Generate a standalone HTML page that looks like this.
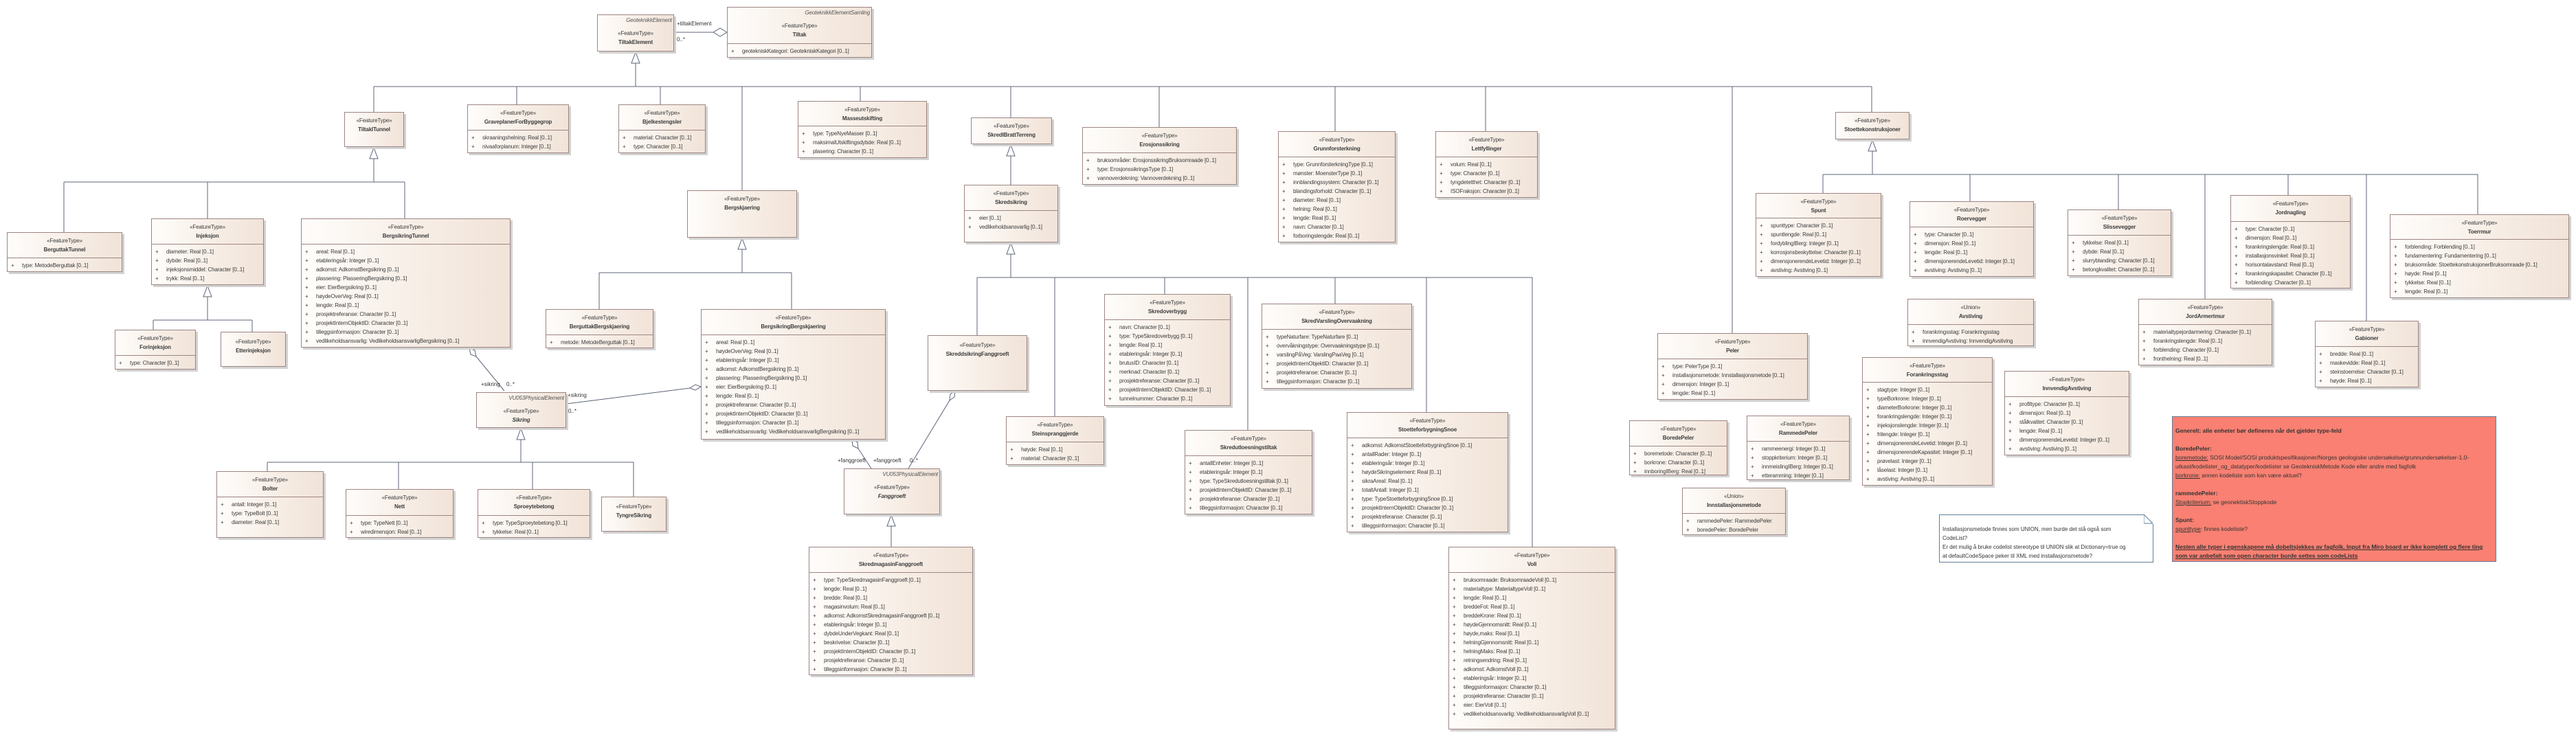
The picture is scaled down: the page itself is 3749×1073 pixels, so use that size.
<!DOCTYPE html>
<html><head><meta charset="utf-8">
<style>
html,body{margin:0;padding:0;background:#fff}
#c{position:relative;width:3749px;height:1073px;overflow:hidden;background:#fff}
.b{position:absolute;box-sizing:border-box;border:1px solid #9d8583;background:linear-gradient(90deg,#fffdfb 0%,#f7eee6 55%,#f1e3d8 100%);box-shadow:3px 3px 0 #d2d2d2;font-family:"Liberation Sans",sans-serif;font-size:8px;letter-spacing:-0.15px;color:#3b3b3b}
.h{box-sizing:border-box;border-bottom:1px solid #9d8583;text-align:center;line-height:13px;padding-top:5px;white-space:nowrap}
.h b{display:block;font-weight:bold}
.n{border-bottom:0}
.ab{text-align:right;font-style:italic;padding-right:2px;line-height:13px;margin-bottom:6px;margin-top:-2px;color:#555}
.at{padding-top:4px}
.r{line-height:13px;white-space:nowrap;padding-left:5px}
.r:before{content:"+";display:inline-block;width:16px}
.lb{position:absolute;font-family:"Liberation Sans",sans-serif;font-size:8px;color:#333;white-space:nowrap}
.note{position:absolute;box-sizing:border-box;font-family:"Liberation Sans",sans-serif;font-size:8.5px;line-height:13px;color:#333;white-space:nowrap}
.note u{text-decoration:underline}
</style></head><body><div id="c">
<svg width="3749" height="1073" style="position:absolute;left:0;top:0" xmlns="http://www.w3.org/2000/svg">
<g stroke="#5c6479" stroke-width="1" fill="none">
<path d="M544 126H2724"/>
<path d="M925 92V126M544 126V163M752 126V152M961 126V152M1080 126V277M1252 126V147M1471 126V171M1687 126V185M1943 126V191M2162 126V191M2521 126V485M2724 126V163"/>
<path d="M544 231V265M93 265H589M93 265V338M302 265V318M589 265V318"/>
<path d="M302 432V466M223 466H367M223 466V480M367 466V483"/>
<path d="M1080 363V397M872 397H1152M872 397V450M1152 397V450"/>
<path d="M1471 227V269"/>
<path d="M1471 370V404M1422 404H2230M1422 404V488M1535 404V606M1695 404V428M1816 404V626M1943 404V442M2076 404V600M2230 404V796"/>
<path d="M2725 220V254M2653 254H3606M2653 254V281M2867 254V293M3083 254V305M3209 254V435M3330 254V284M3444 254V467M3606 254V312"/>
<path d="M758 640V673M389 673H922M389 673V686M580 673V712M775 673V712M922 673V723"/>
<path d="M1297 766V796"/>
<path d="M981 47H1038"/>
<path d="M693 519L734 569"/>
<path d="M1004 565L824 588"/>
<path d="M1249 653L1268 682"/>
<path d="M1382 583L1322 682"/>
</g>
<g stroke="#5c6479" stroke-width="1" fill="#fff">
<polygon points="925,76 919,92 931,92"/>
<polygon points="544,215 538,231 550,231"/>
<polygon points="302,416 296,432 308,432"/>
<polygon points="1080,347 1074,363 1086,363"/>
<polygon points="1471,211 1465,227 1477,227"/>
<polygon points="1471,354 1465,370 1477,370"/>
<polygon points="2725,204 2719,220 2731,220"/>
<polygon points="758,624 752,640 764,640"/>
<polygon points="1297,750 1291,766 1303,766"/>
<polygon points="1058,47 1048,41 1038,47 1048,53"/>
<polygon points="683,507 691,510 693,519 685,516"/>
<polygon points="1020,563 1012,560 1004,565 1012,568"/>
<polygon points="1240,640 1248,644 1249,653 1241,649"/>
<polygon points="1390,569 1389,578 1382,583 1383,574"/>
</g>
</svg>

<div class="lb" style="left:985px;top:30px">+tiltakElement</div>
<div class="lb" style="left:985px;top:53px">0..*</div>
<div class="lb" style="left:700px;top:555px">+sikring</div>
<div class="lb" style="left:737px;top:555px">0..*</div>
<div class="lb" style="left:826px;top:571px">+sikring</div>
<div class="lb" style="left:827px;top:594px">0..*</div>
<div class="lb" style="left:1219px;top:666px">+fanggroeft</div>
<div class="lb" style="left:1271px;top:666px">+fanggroeft</div>
<div class="lb" style="left:1324px;top:666px">0..*</div>

<div class="b" style="left:869px;top:21px;width:112px;height:54px"><div class="h n" style="padding-top:3px"><div class="ab">GeoteknikkElement</div>«FeatureType»<b>TiltakElement</b></div></div>
<div class="b" style="left:1058px;top:10px;width:211px;height:74px"><div class="h" style="height:53px;padding-top:3px"><div class="ab">GeoteknikkElementSamling</div>«FeatureType»<b>Tiltak</b></div><div class="at"><div class="r">geotekniskKategori: GeotekniskKategori [0..1]</div></div></div>
<div class="b" style="left:501px;top:163px;width:87px;height:51px"><div class="h n">«FeatureType»<b>TiltakITunnel</b></div></div>
<div class="b" style="left:680px;top:152px;width:148px;height:71px"><div class="h" style="height:37px">«FeatureType»<b>GraveplanerForByggegrop</b></div><div class="at"><div class="r">skraaningshelning: Real [0..1]</div><div class="r">nivaaforplanum: Integer [0..1]</div></div></div>
<div class="b" style="left:900px;top:152px;width:127px;height:71px"><div class="h" style="height:37px">«FeatureType»<b>Bjelkestengsler</b></div><div class="at"><div class="r">material: Character [0..1]</div><div class="r">type: Character [0..1]</div></div></div>
<div class="b" style="left:1161px;top:147px;width:188px;height:83px"><div class="h" style="height:36px">«FeatureType»<b>Masseutskifting</b></div><div class="at"><div class="r">type: TypeNyeMasser [0..1]</div><div class="r">maksimalUtskiftingsdybde: Real [0..1]</div><div class="r">plasering: Character [0..1]</div></div></div>
<div class="b" style="left:1413px;top:171px;width:118px;height:39px"><div class="h n">«FeatureType»<b>SkredIBrattTerreng</b></div></div>
<div class="b" style="left:1575px;top:185px;width:225px;height:84px"><div class="h" style="height:37px">«FeatureType»<b>Erosjonssikring</b></div><div class="at"><div class="r">bruksområder: ErosjonssikringBruksomraade [0..1]</div><div class="r">type: ErosjonssikringsType [0..1]</div><div class="r">vannoverdekning: Vannoverdekning [0..1]</div></div></div>
<div class="b" style="left:1860px;top:191px;width:171px;height:162px"><div class="h" style="height:37px">«FeatureType»<b>Grunnforsterkning</b></div><div class="at"><div class="r">type: GrunnforsterkningType [0..1]</div><div class="r">mønster: MoensterType [0..1]</div><div class="r">innblandingssystem: Character [0..1]</div><div class="r">blandingsforhold: Character [0..1]</div><div class="r">diameter: Real [0..1]</div><div class="r">helning: Real [0..1]</div><div class="r">lengde: Real [0..1]</div><div class="r">navn: Character [0..1]</div><div class="r">forboringslengde: Real [0..1]</div></div></div>
<div class="b" style="left:2089px;top:191px;width:149px;height:97px"><div class="h" style="height:37px">«FeatureType»<b>Lettfyllinger</b></div><div class="at"><div class="r">volum: Real [0..1]</div><div class="r">type: Character [0..1]</div><div class="r">tyngdetetthet: Character [0..1]</div><div class="r">ISOFraksjon: Character [0..1]</div></div></div>
<div class="b" style="left:2671px;top:163px;width:108px;height:40px"><div class="h n">«FeatureType»<b>Stoettekonstruksjoner</b></div></div>

<div class="b" style="left:10px;top:338px;width:168px;height:58px"><div class="h" style="height:37px">«FeatureType»<b>BerguttakTunnel</b></div><div class="at"><div class="r">type: MetodeBerguttak [0..1]</div></div></div>
<div class="b" style="left:220px;top:318px;width:164px;height:97px"><div class="h" style="height:37px">«FeatureType»<b>Injeksjon</b></div><div class="at"><div class="r">diameter: Real [0..1]</div><div class="r">dybde: Real [0..1]</div><div class="r">injeksjonsmiddel: Character [0..1]</div><div class="r">trykk: Real [0..1]</div></div></div>
<div class="b" style="left:167px;top:480px;width:118px;height:58px"><div class="h" style="height:37px">«FeatureType»<b>Forinjeksjon</b></div><div class="at"><div class="r">type: Character [0..1]</div></div></div>
<div class="b" style="left:321px;top:483px;width:95px;height:51px"><div class="h n" style="padding-top:7px">«FeatureType»<b>Etterinjeksjon</b></div></div>
<div class="b" style="left:438px;top:318px;width:305px;height:188px"><div class="h" style="height:37px">«FeatureType»<b>BergsikringTunnel</b></div><div class="at"><div class="r">areal: Real [0..1]</div><div class="r">etableringsår: Integer [0..1]</div><div class="r">adkomst: AdkomstBergsikring [0..1]</div><div class="r">plassering: PlasseringBergsikring [0..1]</div><div class="r">eier: EierBergsikring [0..1]</div><div class="r">høydeOverVeg: Real [0..1]</div><div class="r">lengde: Real [0..1]</div><div class="r">prosjektreferanse: Character [0..1]</div><div class="r">prosjektInternObjektID: Character [0..1]</div><div class="r">tilleggsinformasjon: Character [0..1]</div><div class="r">vedlikeholdsansvarlig: VedlikeholdsansvarligBergsikring [0..1]</div></div></div>
<div class="b" style="left:1000px;top:277px;width:160px;height:69px"><div class="h n">«FeatureType»<b>Bergskjaering</b></div></div>
<div class="b" style="left:794px;top:450px;width:157px;height:57px"><div class="h" style="height:37px">«FeatureType»<b>BerguttakBergskjaering</b></div><div class="at"><div class="r">metode: MetodeBerguttak [0..1]</div></div></div>
<div class="b" style="left:1020px;top:450px;width:269px;height:190px"><div class="h" style="height:37px">«FeatureType»<b>BergsikringBergskjaering</b></div><div class="at"><div class="r">areal: Real [0..1]</div><div class="r">høydeOverVeg: Real [0..1]</div><div class="r">etableringsår: Integer [0..1]</div><div class="r">adkomst: AdkomstBergsikring [0..1]</div><div class="r">plassering: PlasseringBergsikring [0..1]</div><div class="r">eier: EierBergsikring [0..1]</div><div class="r">lengde: Real [0..1]</div><div class="r">prosjektreferanse: Character [0..1]</div><div class="r">prosjektInternObjektID: Character [0..1]</div><div class="r">tilleggsinformasjon: Character [0..1]</div><div class="r">vedlikeholdsansvarlig: VedlikeholdsansvarligBergsikring [0..1]</div></div></div>
<div class="b" style="left:1403px;top:269px;width:137px;height:84px"><div class="h" style="height:37px">«FeatureType»<b>Skredsikring</b></div><div class="at"><div class="r">eier [0..1]</div><div class="r">vedlikeholdsansvarlig [0..1]</div></div></div>
<div class="b" style="left:1350px;top:488px;width:145px;height:81px"><div class="h n" style="padding-top:7px">«FeatureType»<b>SkreddsikringFanggroeft</b></div></div>
<div class="b" style="left:1607px;top:428px;width:184px;height:163px"><div class="h" style="height:37px">«FeatureType»<b>Skredoverbygg</b></div><div class="at"><div class="r">navn: Character [0..1]</div><div class="r">type: TypeSkredoverbygg [0..1]</div><div class="r">lengde: Real [0..1]</div><div class="r">etableringsår: Integer [0..1]</div><div class="r">brutusID: Character [0..1]</div><div class="r">merknad: Character [0..1]</div><div class="r">prosjektreferanse: Character [0..1]</div><div class="r">prosjektInternObjektID: Character [0..1]</div><div class="r">tunnelnummer: Character [0..1]</div></div></div>
<div class="b" style="left:1836px;top:442px;width:219px;height:124px"><div class="h" style="height:37px">«FeatureType»<b>SkredVarslingOvervaakning</b></div><div class="at"><div class="r">typeNaturfare: TypeNaturfare [0..1]</div><div class="r">overvåkningstype: Overvaakningstype [0..1]</div><div class="r">varslingPåVeg: VarslingPaaVeg [0..1]</div><div class="r">prosjektInternObjektID: Character [0..1]</div><div class="r">prosjektreferanse: Character [0..1]</div><div class="r">tilleggsinformasjon: Character [0..1]</div></div></div>
<div class="b" style="left:1464px;top:606px;width:143px;height:71px"><div class="h" style="height:37px">«FeatureType»<b>Steinspranggjerde</b></div><div class="at"><div class="r">høyde: Real [0..1]</div><div class="r">material: Character [0..1]</div></div></div>
<div class="b" style="left:1724px;top:626px;width:186px;height:123px"><div class="h" style="height:37px">«FeatureType»<b>Skredutloesningstiltak</b></div><div class="at"><div class="r">antallEnheter: Integer [0..1]</div><div class="r">etableringsår: Integer [0..1]</div><div class="r">type: TypeSkredutloesningstiltak [0..1]</div><div class="r">prosjektInternObjektID: Character [0..1]</div><div class="r">prosjektreferanse: Character [0..1]</div><div class="r">tilleggsinformasjon: Character [0..1]</div></div></div>
<div class="b" style="left:1960px;top:600px;width:235px;height:175px"><div class="h" style="height:37px">«FeatureType»<b>StoetteforbygningSnoe</b></div><div class="at"><div class="r">adkomst: AdkomstStoetteforbygningSnoe [0..1]</div><div class="r">antallRader: Integer [0..1]</div><div class="r">etableringsår: Integer [0..1]</div><div class="r">høydeSikringselement: Real [0..1]</div><div class="r">sikraAreal: Real [0..1]</div><div class="r">totaltAntall: Integer [0..1]</div><div class="r">type: TypeStoetteforbygningSnoe [0..1]</div><div class="r">prosjektInternObjektID: Character [0..1]</div><div class="r">prosjektreferanse: Character [0..1]</div><div class="r">tilleggsinformasjon: Character [0..1]</div></div></div>
<div class="b" style="left:2108px;top:796px;width:243px;height:266px"><div class="h" style="height:37px">«FeatureType»<b>Voll</b></div><div class="at"><div class="r">bruksomraade: BruksomraadeVoll [0..1]</div><div class="r">materialtype: MaterialtypeVoll [0..1]</div><div class="r">lengde: Real [0..1]</div><div class="r">breddeFot: Real [0..1]</div><div class="r">breddeKrone: Real [0..1]</div><div class="r">høydeGjennomsnitt: Real [0..1]</div><div class="r">høyde,maks: Real [0..1]</div><div class="r">helningGjennomsnitt: Real [0..1]</div><div class="r">helningMaks: Real [0..1]</div><div class="r">retningsendring: Real [0..1]</div><div class="r">adkomst: AdkomstVoll [0..1]</div><div class="r">etableringsår: Integer [0..1]</div><div class="r">tilleggsinformasjon: Character [0..1]</div><div class="r">prosjektreferanse: Character [0..1]</div><div class="r">eier: EierVoll [0..1]</div><div class="r">vedlikeholdsansvarlig: VedlikeholdsansvarligVoll [0..1]</div></div></div>

<div class="b" style="left:693px;top:571px;width:131px;height:52px"><div class="h n" style="padding-top:3px"><div class="ab">VU053PhysicalElement</div>«FeatureType»<b><i>Sikring</i></b></div></div>
<div class="b" style="left:315px;top:686px;width:156px;height:97px"><div class="h" style="height:37px">«FeatureType»<b>Bolter</b></div><div class="at"><div class="r">antall: Integer [0..1]</div><div class="r">type: TypeBolt [0..1]</div><div class="r">diameter: Real [0..1]</div></div></div>
<div class="b" style="left:503px;top:712px;width:157px;height:71px"><div class="h" style="height:38px">«FeatureType»<b>Nett</b></div><div class="at"><div class="r">type: TypeNett [0..1]</div><div class="r">wiredimensjon: Real [0..1]</div></div></div>
<div class="b" style="left:695px;top:712px;width:164px;height:71px"><div class="h" style="height:38px">«FeatureType»<b>Sproeytebetong</b></div><div class="at"><div class="r">type: TypeSproeytebetong [0..1]</div><div class="r">tykkelse: Real [0..1]</div></div></div>
<div class="b" style="left:875px;top:723px;width:95px;height:51px"><div class="h n" style="padding-top:7px">«FeatureType»<b>TyngreSikring</b></div></div>
<div class="b" style="left:1228px;top:682px;width:140px;height:67px"><div class="h n" style="padding-top:3px"><div class="ab">VU053PhysicalElement</div>«FeatureType»<b><i>Fanggroeft</i></b></div></div>
<div class="b" style="left:1177px;top:796px;width:239px;height:187px"><div class="h" style="height:37px">«FeatureType»<b>SkredmagasinFanggroeft</b></div><div class="at"><div class="r">type: TypeSkredmagasinFanggroeft [0..1]</div><div class="r">lengde: Real [0..1]</div><div class="r">bredde: Real [0..1]</div><div class="r">magasinvolum: Real [0..1]</div><div class="r">adkomst: AdkomstSkredmagasinFanggroeft [0..1]</div><div class="r">etableringsår: Integer [0..1]</div><div class="r">dybdeUnderVegkant: Real [0..1]</div><div class="r">beskrivelse: Character [0..1]</div><div class="r">prosjektInternObjektID: Character [0..1]</div><div class="r">prosjektreferanse: Character [0..1]</div><div class="r">tilleggsinformasjon: Character [0..1]</div></div></div>

<div class="b" style="left:2412px;top:485px;width:219px;height:97px"><div class="h" style="height:37px">«FeatureType»<b>Peler</b></div><div class="at"><div class="r">type: PelerType [0..1]</div><div class="r">installasjonsmetode: Innstallasjonsmetode [0..1]</div><div class="r">dimensjon: Integer [0..1]</div><div class="r">lengde: Real [0..1]</div></div></div>
<div class="b" style="left:2371px;top:612px;width:143px;height:80px"><div class="h" style="height:37px">«FeatureType»<b>BoredePeler</b></div><div class="at"><div class="r">boremetode: Character [0..1]</div><div class="r">borkrone: Character [0..1]</div><div class="r">innboringIBerg: Real [0..1]</div></div></div>
<div class="b" style="left:2542px;top:605px;width:150px;height:94px"><div class="h" style="height:37px">«FeatureType»<b>RammedePeler</b></div><div class="at"><div class="r">rammeenergi: Integer [0..1]</div><div class="r">stoppkriterium: Integer [0..1]</div><div class="r">innmeislingIBerg: Integer [0..1]</div><div class="r">etteramming: Integer [0..1]</div></div></div>
<div class="b" style="left:2448px;top:710px;width:151px;height:69px"><div class="h" style="height:37px">«Union»<b>Innstallasjonsmetode</b></div><div class="at"><div class="r">rammedePeler: RammedePeler</div><div class="r">boredePeler: BoredePeler</div></div></div>
<div class="b" style="left:2555px;top:281px;width:183px;height:122px"><div class="h" style="height:36px">«FeatureType»<b>Spunt</b></div><div class="at"><div class="r">spunttype: Character [0..1]</div><div class="r">spuntlengde: Real [0..1]</div><div class="r">fordyblingIBerg: Integer [0..1]</div><div class="r">korrosjonsbeskyttelse: Character [0..1]</div><div class="r">dimensjonerendeLevetid: Integer [0..1]</div><div class="r">avstiving: Avstiving [0..1]</div></div></div>
<div class="b" style="left:2779px;top:293px;width:181px;height:110px"><div class="h" style="height:37px">«FeatureType»<b>Roervegger</b></div><div class="at"><div class="r">type: Character [0..1]</div><div class="r">dimensjon: Real [0..1]</div><div class="r">lengde: Real [0..1]</div><div class="r">dimensjonerendeLevetid: Integer [0..1]</div><div class="r">avstiving: Avstiving [0..1]</div></div></div>
<div class="b" style="left:3009px;top:305px;width:151px;height:97px"><div class="h" style="height:37px">«FeatureType»<b>Slissevegger</b></div><div class="at"><div class="r">tykkelse: Real [0..1]</div><div class="r">dybde: Real [0..1]</div><div class="r">slurryblanding: Character [0..1]</div><div class="r">betongkvalitet: Character [0..1]</div></div></div>
<div class="b" style="left:3246px;top:284px;width:175px;height:136px"><div class="h" style="height:38px">«FeatureType»<b>Jordnagling</b></div><div class="at"><div class="r">type: Character [0..1]</div><div class="r">dimensjon: Real [0..1]</div><div class="r">forankringslengde: Real [0..1]</div><div class="r">installasjonsvinkel: Real [0..1]</div><div class="r">horisontalavstand: Real [0..1]</div><div class="r">forankringskapasitet: Character [0..1]</div><div class="r">forblending: Character [0..1]</div></div></div>
<div class="b" style="left:3478px;top:312px;width:261px;height:122px"><div class="h" style="height:36px">«FeatureType»<b>Toerrmur</b></div><div class="at"><div class="r">forblending: Forblending [0..1]</div><div class="r">fundamentering: Fundamentering [0..1]</div><div class="r">bruksområde: StoettekonstruksjonerBruksomraade [0..1]</div><div class="r">høyde: Real [0..1]</div><div class="r">tykkelse: Real [0..1]</div><div class="r">lengde: Real [0..1]</div></div></div>
<div class="b" style="left:2776px;top:435px;width:184px;height:69px"><div class="h" style="height:37px">«Union»<b>Avstiving</b></div><div class="at"><div class="r">forankringsstag: Forankringsstag</div><div class="r">innvendigAvstiving: InnvendigAvstiving</div></div></div>
<div class="b" style="left:3112px;top:435px;width:195px;height:97px"><div class="h" style="height:37px">«FeatureType»<b>JordArmertmur</b></div><div class="at"><div class="r">materialtypejordarmering: Character [0..1]</div><div class="r">forankringslengde: Real [0..1]</div><div class="r">forblending: Character [0..1]</div><div class="r">fronthelning: Real [0..1]</div></div></div>
<div class="b" style="left:3369px;top:467px;width:151px;height:97px"><div class="h" style="height:37px">«FeatureType»<b>Gabioner</b></div><div class="at"><div class="r">bredde: Real [0..1]</div><div class="r">maskevidde: Real [0..1]</div><div class="r">steinstoerrelse: Character [0..1]</div><div class="r">høyde: Real [0..1]</div></div></div>
<div class="b" style="left:2710px;top:520px;width:190px;height:187px"><div class="h" style="height:36px">«FeatureType»<b>Forankringsstag</b></div><div class="at"><div class="r">stagtype: Integer [0..1]</div><div class="r">typeBorkrone: Integer [0..1]</div><div class="r">diameterBorkrone: Integer [0..1]</div><div class="r">forankringslengde: Integer [0..1]</div><div class="r">injeksjonslengde: Integer [0..1]</div><div class="r">frilengde: Integer [0..1]</div><div class="r">dimensjonerendeLevetid: Integer [0..1]</div><div class="r">dimensjonerendeKapasitet: Integer [0..1]</div><div class="r">prøvelast: Integer [0..1]</div><div class="r">låselast: Integer [0..1]</div><div class="r">avstiving: Avstiving [0..1]</div></div></div>
<div class="b" style="left:2917px;top:540px;width:182px;height:123px"><div class="h" style="height:37px">«FeatureType»<b>InnvendigAvstiving</b></div><div class="at"><div class="r">profiltype: Character [0..1]</div><div class="r">dimensjon: Real [0..1]</div><div class="r">stålkvalitet: Character [0..1]</div><div class="r">lengde: Real [0..1]</div><div class="r">dimensjonerendeLevetid: Integer [0..1]</div><div class="r">avstiving: Avstiving [0..1]</div></div></div>

<div class="note" style="left:2822px;top:749px;width:312px;height:70px;border:1px solid #5f7f98;background:#fff;padding:14px 0 0 4px;font-size:8px">
<svg width="14" height="14" style="position:absolute;right:-1px;top:-1px"><polygon points="0,0 13,13 13,14 14,14 14,0" fill="#fff"/><polyline points="0,0 0,13 13,13" fill="#fff" stroke="#5f7f98"/><line x1="0" y1="0" x2="13" y2="13" stroke="#5f7f98"/></svg>
Installasjonsmetode finnes som UNION, men burde det stå også som<br>CodeList?<br>Er det mulig å bruke codelist stereotype til UNION slik at Dictionary=true og<br>at defaultCodeSpace peker til XML med installasjonsmetode?</div>

<div class="note" style="left:3161px;top:606px;width:472px;height:212px;border:1px solid #5f7f98;background:#f98072;padding:14px 0 0 4px">
<b>Generelt: alle enheter bør defineres når det gjelder type-feld</b><br><br>
<b>BoredePeler:</b><br>
<u>boremetode:</u> SOSI Model/SOSI produktspesifikasjoner/Norges geologiske undersøkelse/grunnundersøkelser-1.0-<br>
utkast/kodelister_og_datatyper/kodelister se GeotekniskMetode Kode eller andre med fagfolk<br>
<u>borkrone:</u> annen kodeliste som kan være aktuel?<br><br>
<b>rammedePeler:</b><br>
<u>Stopkriterium:</u> se geonektiskStoppkode<br><br>
<b>Spunt:</b><br>
<u>spunttype</u>: finnes kodeliste?<br><br>
<b><u>Nesten alle typer i egenskapene må dobeltsjekkes av fagfolk. Input fra Miro board er ikke komplett og flere ting</u></b><br>
<b><u>som var anbefalt som open character burde settes som codeLists</u></b></div>
</div></body></html>
